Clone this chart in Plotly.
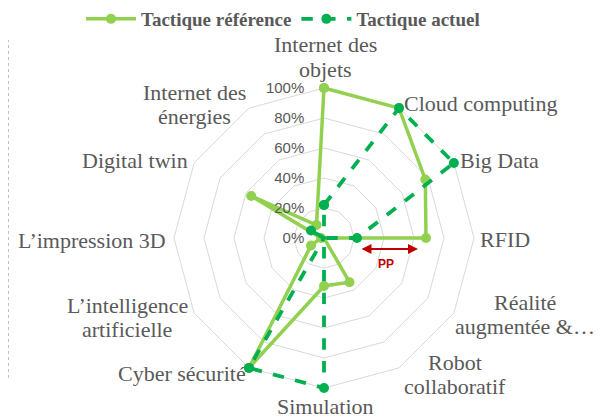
import plotly.graph_objects as go

categories = ["Internet des<br>objets", "Cloud computing", "Big Data", "RFID",
              "Réalité<br>augmentée &…", "Robot<br>collaboratif", "Simulation",
              "Cyber sécurité", "L’intelligence<br>artificielle", "L’impression 3D",
              "Digital twin", "Internet des<br>énergies"]
reference = [100, 100, 78, 68, 0, 34, 32, 100, 10, 2, 56, 10]
actuel = [22, 100, 100, 22, 0, 0, 100, 100, 0, 0, 10, 0]
radial_ticks = [0, 20, 40, 60, 80, 100]
radial_labels = ["0%", "20%", "40%", "60%", "80%", "100%"]

# label centres (page px) for the category names, placed as in the reference
label_xy = [(325, 57), (480, 103), (499, 161), (505, 239), (525, 314), (455, 374),
            (325, 406), (182, 373), (127, 317), (92, 240), (135, 160), (194, 104)]
LINE_GAP = 24

LIGHT = "#92D050"
DARK = "#00B050"
GRAY = "#595959"
GRID = "#D9D9D9"

def closed(v):
    return v + v[:1]

fig = go.Figure()
fig.add_trace(go.Scatterpolar(
    r=closed(reference), theta=closed(categories), name="Tactique référence",
    mode="lines+markers", line=dict(color=LIGHT, width=3.5),
    marker=dict(color=LIGHT, size=10), cliponaxis=False))
fig.add_trace(go.Scatterpolar(
    r=closed(actuel), theta=closed(categories), name="Tactique actuel",
    mode="lines+markers", line=dict(color=DARK, width=3.8, dash="dash"),
    marker=dict(color=DARK, size=10), cliponaxis=False))

W, H = 602, 418
RMAX = 102  # a little headroom so lines on the 100% ring are not clipped
cx, cy = 324, 238
R = 150 * RMAX / 100

def px(x):
    return x / W

def py(y):
    return (H - y) / H

annotations = []
for cat, (lx, ly) in zip(categories, label_xy):
    lines = cat.split("<br>")
    n = len(lines)
    for i, line in enumerate(lines):
        yy = ly + (i - (n - 1) / 2) * LINE_GAP
        annotations.append(dict(
            x=px(lx), y=py(yy), xref="paper", yref="paper", text=line,
            showarrow=False, xanchor="center", yanchor="middle",
            font=dict(family="Liberation Serif", size=22, color=GRAY)))

annotations += [
    dict(x=px(418), y=py(249), xref="paper", yref="paper",
         ax=-58, ay=0, axref="pixel", ayref="pixel", text="",
         showarrow=True, arrowhead=2, arrowside="end+start", arrowsize=1,
         arrowwidth=2, arrowcolor="#C00000"),
    dict(x=px(386), y=py(264), xref="paper", yref="paper",
         text="<b>PP</b>", showarrow=False,
         font=dict(family="Liberation Sans", size=12, color="#C00000")),
]

fig.update_layout(
    width=W, height=H,
    margin=dict(l=0, r=0, t=0, b=0, autoexpand=False),
    paper_bgcolor="white", plot_bgcolor="white",
    font=dict(family="Liberation Serif", color=GRAY, size=16),
    showlegend=True,
    legend=dict(orientation="h", x=px(283), xanchor="center", y=1.0, yanchor="top",
                yref="container", xref="container",
                font=dict(family="Liberation Serif", size=19, color=GRAY, weight="bold"),
                itemwidth=50, tracegroupgap=0),
    polar=dict(
        domain=dict(x=[(cx - R) / W, (cx + R) / W], y=[(H - cy - R) / H, (H - cy + R) / H]),
        gridshape="linear",
        bgcolor="white",
        radialaxis=dict(range=[0, RMAX], tickvals=radial_ticks, ticktext=radial_labels,
                        angle=90, tickangle=90, side="counterclockwise",
                        showline=False, ticks="outside", ticklen=14,
                        tickcolor="rgba(0,0,0,0)", gridcolor=GRID, gridwidth=1,
                        tickfont=dict(family="Liberation Sans", size=15, color=GRAY)),
        angularaxis=dict(direction="clockwise", rotation=90, showgrid=False,
                         showline=False, ticks="", showticklabels=False),
    ),
    annotations=annotations,
    shapes=[dict(type="line", xref="paper", yref="paper", x0=px(8.5), x1=px(8.5),
                 y0=py(378), y1=py(40),
                 line=dict(color="#BFBFBF", width=1, dash="dot"))],
)
fig.write_html("out.html", config={"displayModeBar": False},
               post_script="document.body.style.margin='0';document.body.style.overflow='hidden';")
